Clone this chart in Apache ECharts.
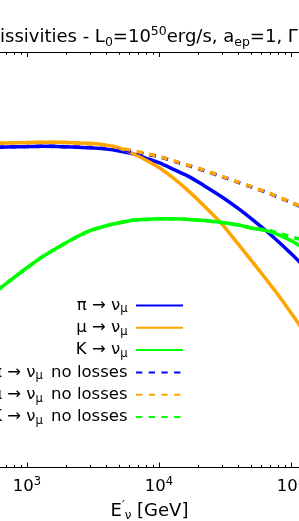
<!DOCTYPE html>
<html><head><meta charset="utf-8">
<script src="https://cdn.jsdelivr.net/npm/echarts@6/dist/echarts.min.js"></script>
<style>html,body{margin:0;padding:0;background:#fff;}#c{width:299px;height:521px;}</style>
</head><body><div id="c"></div>
<script>
// E'_nu [GeV]
const energies = [600, 800, 1000, 1300, 1700, 2200, 3000, 4000, 5000, 6500, 8000, 10000, 13000, 17000, 22000, 30000, 40000, 50000, 65000, 80000, 100000, 120000];
// emissivities (relative units)
const piNuMu = [31.99, 32.03, 32.05, 32.08, 32.07, 32.01, 31.94, 31.80, 31.61, 31.30, 30.88, 30.44, 29.75, 29.03, 28.15, 27.02, 25.85, 24.86, 23.62, 22.57, 21.37, 20.34];
const muNuMu = [32.40, 32.43, 32.45, 32.48, 32.48, 32.43, 32.38, 32.20, 31.92, 31.29, 30.69, 29.96, 28.85, 27.53, 26.13, 24.31, 22.28, 20.69, 18.78, 17.23, 15.44, 13.95];
const kNuMu = [17.72, 18.99, 19.95, 21.02, 21.94, 22.79, 23.65, 24.15, 24.44, 24.71, 24.78, 24.84, 24.84, 24.76, 24.66, 24.47, 24.22, 23.93, 23.66, 23.27, 22.66, 22.05];
const piNuMuNoLoss = [31.99, 32.03, 32.05, 32.08, 32.07, 32.01, 31.95, 31.86, 31.76, 31.52, 31.29, 31.04, 30.59, 30.12, 29.66, 29.05, 28.47, 28.02, 27.48, 27.01, 26.47, 26.01];
const muNuMuNoLoss = [32.40, 32.43, 32.45, 32.48, 32.48, 32.43, 32.32, 32.17, 31.92, 31.62, 31.36, 31.07, 30.62, 30.15, 29.69, 29.08, 28.50, 28.05, 27.51, 27.04, 26.50, 26.04];
const kNuMuNoLoss = [17.72, 18.99, 19.95, 21.02, 21.94, 22.79, 23.65, 24.15, 24.44, 24.71, 24.78, 24.84, 24.84, 24.76, 24.66, 24.47, 24.22, 23.93, 23.72, 23.40, 23.05, 22.75];

const seriesNames = ['π → ν_μ', 'μ → ν_μ', 'K → ν_μ', 'π → ν_μ no losses', 'μ → ν_μ no losses', 'K → ν_μ no losses'];
const xMajorTicks = [1000, 10000, 100000];
const xTickLabels = ['10^3', '10^4', '10^5'];
const xMinorTicks = [700, 800, 900, 2000, 3000, 4000, 5000, 6000, 7000, 8000, 9000, 20000, 30000, 40000, 50000, 60000, 70000, 80000, 90000];
const xMin = 624.5, xMax = 115000;

const FF = 'DejaVu Sans';
const BLUE = '#0000ff', ORANGE = '#ffa500', GREEN = '#00ff00';

function pairs(arr) { return energies.map((e, i) => [e, arr[i]]); }
function mkSeries(name, arr, color, dashed) {
  return {
    name, type: 'line', data: pairs(arr), smooth: 0.3, symbol: 'none',
    xAxisIndex: 0, yAxisIndex: 0,
    itemStyle: { color },
    lineStyle: { color, width: 3.5, type: dashed ? [6.3, 6.4] : 'solid', cap: 'butt' },
    emphasis: { disabled: true }
  };
}
function baseX(extra) {
  return Object.assign({
    type: 'log', logBase: 10, min: xMin, max: xMax, gridIndex: 0,
    splitLine: { show: false }, axisLabel: { show: false },
    axisLine: { show: true, lineStyle: { color: '#000', width: 1 } },
  }, extra);
}

const chart = echarts.init(document.getElementById('c'), null, { renderer: 'canvas' });
chart.setOption({
  animation: false,
  backgroundColor: '#fff',
  graphic: [{
    type: 'text', x: 0, y: 37, silent: true,
    style: {
      text: '{t|issivities - L}{sb|0}{t|=10}{sp|50}{t|erg/s, a}{sb|ep}{t|=1, Γ}',
      align: 'left', verticalAlign: 'middle',
      fontFamily: FF, fontSize: 18, fill: '#000',
      rich: {
        t: { fontFamily: FF, fontSize: 18, lineHeight: 24, fill: '#000' },
        sp: { fontFamily: FF, fontSize: 12.5, lineHeight: 13, verticalAlign: 'top', fill: '#000' },
        sb: { fontFamily: FF, fontSize: 12.5, lineHeight: 13, verticalAlign: 'bottom', fill: '#000' }
      }
    }
  }],
  grid: { left: 0, right: 0, top: 52, bottom: 53.5, containLabel: false, outerBoundsMode: 'none' },
  xAxis: [
    baseX({
      position: 'bottom',
      axisTick: { show: true, inside: true, length: 5, customValues: xMajorTicks, lineStyle: { color: '#000', width: 1 } },
      axisLabel: {
        show: true, customValues: xMajorTicks, margin: 9,
        formatter: function (v) {
          const i = xMajorTicks.findIndex(t => Math.abs(t - v) / t < 1e-6);
          if (i < 0) return '';
          const parts = xTickLabels[i].split('^');
          return '{b|' + parts[0] + '}{p|' + parts[1] + '}';
        },
        rich: {
          b: { fontFamily: FF, fontSize: 16.5, lineHeight: 20, color: '#000' },
          p: { fontFamily: FF, fontSize: 11.5, lineHeight: 12, verticalAlign: 'top', color: '#000' }
        }
      },
      name: '{b|E}{p|′}{s|ν}{b| [GeV]}',
      nameLocation: 'middle', nameGap: 29.5,
      nameTextStyle: {
        fontFamily: FF, fontSize: 18, color: '#000',
        rich: {
          b: { fontFamily: FF, fontSize: 18, lineHeight: 22, color: '#000' },
          p: { fontFamily: FF, fontSize: 12, lineHeight: 12, verticalAlign: 'top', color: '#000' },
          s: { fontFamily: FF, fontSize: 12, lineHeight: 12, verticalAlign: 'bottom', color: '#000' }
        }
      }
    }),
    baseX({
      position: 'bottom',
      axisTick: { show: true, inside: true, length: 2.7, customValues: xMinorTicks, lineStyle: { color: '#000', width: 1 } }
    }),
    baseX({
      position: 'top',
      axisTick: { show: true, inside: true, length: 5, customValues: xMajorTicks, lineStyle: { color: '#000', width: 1 } }
    }),
    baseX({
      position: 'top',
      axisTick: { show: true, inside: true, length: 2.7, customValues: xMinorTicks, lineStyle: { color: '#000', width: 1 } }
    })
  ],
  yAxis: [{ type: 'value', min: 0, max: 41.5, show: false, splitLine: { show: false } }],
  legend: {
    orient: 'vertical', align: 'right', right: 115, top: 297, padding: 0,
    itemWidth: 47, itemHeight: 14, itemGap: 3.8,
    itemStyle: { opacity: 0 },
    selectedMode: false,
    data: seriesNames,
    formatter: function (name) {
      const p = name.split('_μ');
      return '{t|' + p[0] + '}{s|μ}' + (p[1] ? '{n|' + p[1] + '}' : '') + '{e| }';
    },
    textStyle: {
      fontFamily: FF, fontSize: 16.5, color: '#000',
      rich: {
        t: { fontFamily: FF, fontSize: 16.5, lineHeight: 20, color: '#000' },
        n: { fontFamily: FF, fontSize: 16.5, lineHeight: 20, color: '#000', padding: [0, 0, 0, 3] },
        s: { fontFamily: FF, fontSize: 11.5, lineHeight: 10, verticalAlign: 'bottom', color: '#000' },
        e: { fontFamily: FF, fontSize: 11, lineHeight: 10, color: '#000' }
      }
    }
  },
  series: [
    mkSeries(seriesNames[0], piNuMu, BLUE, false),
    mkSeries(seriesNames[1], muNuMu, ORANGE, false),
    mkSeries(seriesNames[2], kNuMu, GREEN, false),
    mkSeries(seriesNames[3], piNuMuNoLoss, BLUE, true),
    mkSeries(seriesNames[4], muNuMuNoLoss, ORANGE, true),
    mkSeries(seriesNames[5], kNuMuNoLoss, GREEN, true)
  ]
});
</script></body></html>
